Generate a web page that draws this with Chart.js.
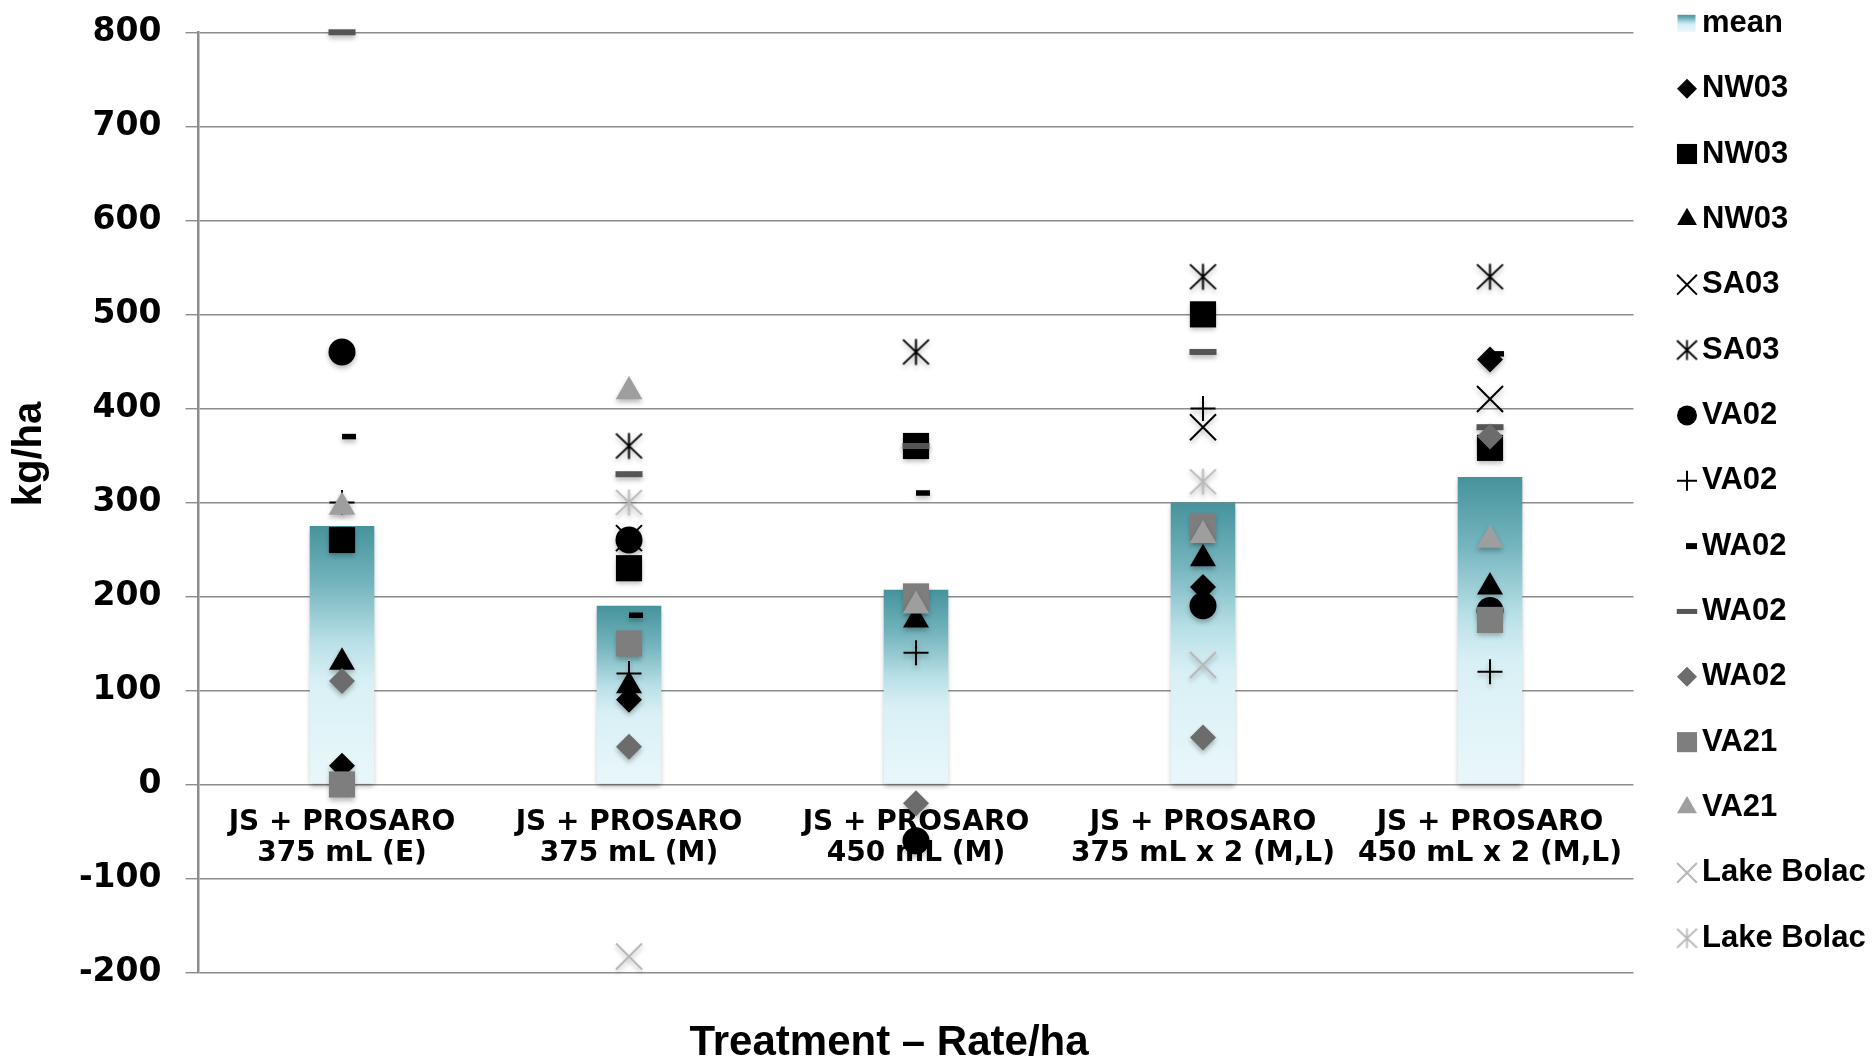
<!DOCTYPE html>
<html>
<head>
<meta charset="utf-8">
<style>
html,body{margin:0;padding:0;background:#ffffff;}
canvas{display:block;}
</style>
<script src="https://cdn.jsdelivr.net/npm/chart.js@4.4.1/dist/chart.umd.min.js"></script>
</head>
<body>
<canvas id="c" width="1875" height="1059"></canvas>
<script>
// ---- data ----
const categories = [
  ['JS + PROSARO', '375 mL (E)'],
  ['JS + PROSARO', '375 mL (M)'],
  ['JS + PROSARO', '450 mL (M)'],
  ['JS + PROSARO', '375 mL x 2 (M,L)'],
  ['JS + PROSARO', '450 mL x 2 (M,L)']
];
const yTicks = [-200, -100, 0, 100, 200, 300, 400, 500, 600, 700, 800];

const meanValues        = [275, 190, 207, 300, 327];
const nw03Diamond       = [20, 90, null, 210, 452];
const nw03Square        = [260, 230, 360, 500, 358];
const nw03Triangle      = [130, 105, 175, 240, 210];
const sa03Cross         = [null, 262, null, 380, 410];
const sa03Star          = [null, 360, 460, 540, 540];
const va02Circle        = [460, 260, -60, 190, 185];
const va02Plus          = [300, 118, 140, 400, 120];
const wa02SmallDash     = [370, 180, 310, null, 458];
const wa02Line          = [800, 330, 360, 460, 380];
const wa02Diamond       = [110, 40, -20, 50, 370];
const va21Square        = [0, 150, 200, 275, 175];
const va21Triangle      = [295, 418, 190, 265, 260];
const lakeBolacCross    = [null, -183, null, 127, null];
const lakeBolacStar     = [null, 300, null, 322, null];

const xTitle = 'Treatment \u2013 Rate/ha';
const yTitle = 'kg/ha';

// ---- asterisk marker images ----
function makeAsterisk(color, size, lw) {
  const c = document.createElement('canvas');
  c.width = size; c.height = size;
  const g = c.getContext('2d');
  g.strokeStyle = color; g.lineWidth = lw;
  const m = size / 2, r = size / 2 - 1.5;
  g.beginPath();
  g.moveTo(m, m - r); g.lineTo(m, m + r);
  g.moveTo(m - r, m - r * 0.95); g.lineTo(m + r, m + r * 0.95);
  g.moveTo(m - r, m + r * 0.95); g.lineTo(m + r, m - r * 0.95);
  g.stroke();
  return c;
}
const starBlack = makeAsterisk('#000000', 29, 2);
const starGray = makeAsterisk('#b8b8b8', 29, 2);
const starBlackSmall = makeAsterisk('#000000', 23, 1.8);
const starGraySmall = makeAsterisk('#b8b8b8', 23, 1.8);

function meanGradient(g, top, bot) {
  const gr = g.createLinearGradient(0, top, 0, bot);
  gr.addColorStop(0, '#46939c');
  gr.addColorStop(0.22, '#74b4bd');
  gr.addColorStop(0.45, '#b9e0e7');
  gr.addColorStop(0.6, '#d8f0f5');
  gr.addColorStop(1, '#eaf7fa');
  return gr;
}

let seriesIndex = 0;
function markerSet(label, data, style, radius, fill, stroke, bw, legendR) {
  seriesIndex += 1;
  return {
    type: 'line', label: label, data: data, showLine: false, clip: false, order: -seriesIndex,
    pointStyle: style, pointRadius: radius, pointHoverRadius: radius,
    pointBackgroundColor: fill, pointBorderColor: stroke, pointBorderWidth: bw,
    backgroundColor: fill, borderColor: stroke,
    _legendR: legendR
  };
}

const datasets = [
  {
    type: 'bar', label: 'mean', data: meanValues, order: 10,
    barPercentage: 0.225, categoryPercentage: 1,
    borderWidth: 0,
    backgroundColor: function (ctx) {
      const chart = ctx.chart;
      if (!chart.chartArea || ctx.type !== 'data' || ctx.raw == null) return '#9fd0d6';
      const ys = chart.scales.y;
      return meanGradient(chart.ctx, ys.getPixelForValue(ctx.raw), ys.getPixelForValue(0));
    }
  },
  markerSet('NW03', nw03Diamond, 'rectRot', 13, '#000000', '#000000', 0, 10),
  markerSet('NW03', nw03Square, 'rect', 18.5, '#000000', '#000000', 0, 14.2),
  markerSet('NW03', nw03Triangle, 'triangle', 15, '#000000', '#000000', 0, 11.5),
  markerSet('SA03', sa03Cross, 'crossRot', 18.4, '#000000', '#000000', 2, 14),
  markerSet('SA03', sa03Star, starBlack, 14, '#000000', '#000000', 0, starBlackSmall),
  markerSet('VA02', va02Circle, 'circle', 13.5, '#000000', '#000000', 0, 10),
  markerSet('VA02', va02Plus, 'cross', 12.5, '#000000', '#000000', 2, 10),
  markerSet('WA02', wa02SmallDash, 'dash', 14, '#000000', '#000000', 5.5, 11),
  markerSet('WA02', wa02Line, 'line', 13.5, '#555555', '#555555', 6, 10.2),
  markerSet('WA02', wa02Diamond, 'rectRot', 13, '#6c6c6c', '#6c6c6c', 0, 10),
  markerSet('VA21', va21Square, 'rect', 18.5, '#7e7e7e', '#7e7e7e', 0, 14.2),
  markerSet('VA21', va21Triangle, 'triangle', 15.4, '#9e9e9e', '#9e9e9e', 0, 11.5),
  markerSet('Lake Bolac', lakeBolacCross, 'crossRot', 18.4, '#b8b8b8', '#b8b8b8', 2, 14),
  markerSet('Lake Bolac', lakeBolacStar, starGray, 14, '#b8b8b8', '#b8b8b8', 0, starGraySmall)
];

// ---- plugins ----
const shadowPlugin = {
  id: 'shadow',
  beforeDatasetsDraw(chart) {
    const c = chart.ctx; c.save();
    c.shadowColor = 'rgba(0,0,0,0.28)'; c.shadowBlur = 5; c.shadowOffsetX = 0; c.shadowOffsetY = 3;
  },
  afterDatasetsDraw(chart) { chart.ctx.restore(); }
};

function drawMarker(g, style, r, x, y, fill, stroke, lw) {
  g.save();
  g.fillStyle = fill; g.strokeStyle = stroke; g.lineWidth = lw; g.lineCap = 'butt';
  if (typeof style !== 'string') {
    g.drawImage(style, x - style.width / 2, y - style.height / 2);
    g.restore(); return;
  }
  g.beginPath();
  switch (style) {
    case 'circle': g.arc(x, y, r, 0, Math.PI * 2); g.fill(); break;
    case 'rect': { const s = r * Math.SQRT1_2; g.rect(x - s, y - s, 2 * s, 2 * s); g.fill(); break; }
    case 'rectRot': g.moveTo(x - r, y); g.lineTo(x, y - r); g.lineTo(x + r, y); g.lineTo(x, y + r); g.closePath(); g.fill(); break;
    case 'triangle': g.moveTo(x, y - r); g.lineTo(x + r * 0.866, y + r * 0.5); g.lineTo(x - r * 0.866, y + r * 0.5); g.closePath(); g.fill(); break;
    case 'cross': g.moveTo(x, y - r); g.lineTo(x, y + r); g.moveTo(x - r, y); g.lineTo(x + r, y); g.stroke(); break;
    case 'crossRot': { const d = r * Math.SQRT1_2; g.moveTo(x - d, y - d); g.lineTo(x + d, y + d); g.moveTo(x - d, y + d); g.lineTo(x + d, y - d); g.stroke(); break; }
    case 'dash': g.moveTo(x, y); g.lineTo(x + r, y); g.stroke(); break;
    case 'line': g.moveTo(x - r, y); g.lineTo(x + r, y); g.stroke(); break;
  }
  g.restore();
}

const legendAndTitles = {
  id: 'legendAndTitles',
  afterDraw(chart) {
    const g = chart.ctx;
    g.save();
    // axis titles
    g.fillStyle = '#000000';
    g.font = 'bold 42px "Liberation Sans", Arial, sans-serif';
    g.textAlign = 'center'; g.textBaseline = 'alphabetic';
    g.fillText(xTitle, 889, 1055);
    g.save();
    g.translate(30, 454); g.rotate(-Math.PI / 2);
    g.font = 'bold 40px "Liberation Sans", Arial, sans-serif';
    g.textBaseline = 'middle';
    g.fillText(yTitle, 0, 0);
    g.restore();
    // legend
    const mx = 1687, tx = 1702, y0 = 23.3, step = 65.35;
    g.font = 'bold 31px "Liberation Sans", Arial, sans-serif';
    g.textAlign = 'left'; g.textBaseline = 'middle';
    chart.data.datasets.forEach((ds, i) => {
      const y = y0 + i * step;
      if (ds.type === 'bar') {
        g.fillStyle = meanGradient(g, y - 8.5, y + 8.5);
        g.fillRect(1677.5, y - 8.5, 18, 17);
      } else {
        const st = ds.pointStyle;
        const style = (typeof st === 'string') ? st : ds._legendR;
        let x = mx;
        if (st === 'dash') x = 1686;
        drawMarker(g, style, typeof ds._legendR === 'number' ? ds._legendR : 10, x, y,
          ds.pointBackgroundColor, ds.pointBorderColor, st === 'dash' ? 6 : (st === 'line' ? 5 : (ds.pointBorderWidth || 1.6)));
      }
      g.fillStyle = '#000000';
      g.fillText(ds.label, tx, y);
    });
    g.restore();
  }
};

new Chart(document.getElementById('c'), {
  type: 'bar',
  data: { labels: categories, datasets: datasets },
  options: {
    responsive: false,
    devicePixelRatio: 1,
    animation: false,
    events: [],
    layout: { padding: { left: 0, top: 32.3, right: 241.5, bottom: 86.5 } },
    plugins: { legend: { display: false }, tooltip: { enabled: false }, title: { display: false } },
    scales: {
      x: {
        type: 'category',
        offset: true,
        position: { y: 0 },
        grid: { display: false, drawTicks: false, tickLength: 0 },
        border: { display: false },
        ticks: {
          color: '#000000',
          font: { family: '"DejaVu Sans", sans-serif', size: 28, weight: 'bold', lineHeight: 1.132 },
          padding: 22,
          maxRotation: 0, minRotation: 0, autoSkip: false
        },
        afterFit(s) { s.height = 0; }
      },
      y: {
        type: 'linear',
        min: -200, max: 800,
        afterBuildTicks(s) { s.ticks = yTicks.map(v => ({ value: v })); },
        ticks: {
          color: '#000000',
          font: { family: '"DejaVu Sans", sans-serif', size: 33, weight: 'bold' },
          padding: 24
        },
        grid: { color: '#8c8c8c', lineWidth: 1.4, tickLength: 13, drawTicks: true },
        border: { display: true, color: '#8c8c8c', width: 2.5 },
        afterFit(s) { s.width = 198.5; s.paddingTop = 0; s.paddingBottom = 0; }
      }
    }
  },
  plugins: [shadowPlugin, legendAndTitles]
});
</script>
</body>
</html>
